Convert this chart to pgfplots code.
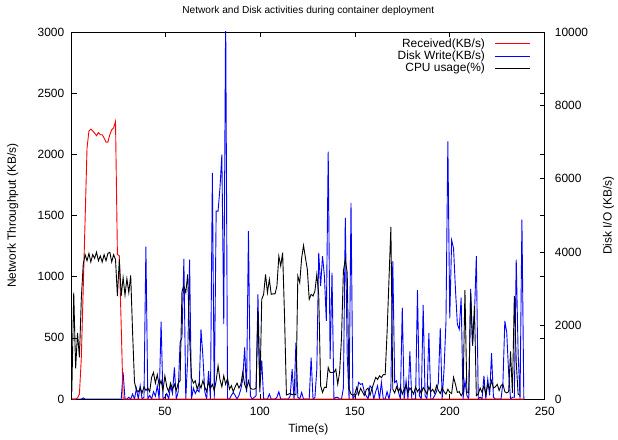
\documentclass[border=0pt]{standalone}
\usepackage{fontspec}
\setmainfont{Liberation Sans}
\usepackage{pgfplots}
\pgfplotsset{compat=1.18}
\begin{document}
\fontsize{12}{14}\selectfont
\begin{tikzpicture}
\pgfplotsset{
  common/.style={
    width=474bp, height=368bp, scale only axis,
    xmin=1, xmax=250,
    /pgf/number format/assume math mode=true,
    /pgf/number format/1000 sep={},
    scaled ticks=false,
    tick label style={font=\fontsize{12}{14}\selectfont},
    label style={font=\fontsize{12}{14}\selectfont},
    major tick length=5bp,
    tick align=inside,
    axis line style={line width=0.8bp},
    every tick/.style={black, line width=0.6bp},
  }
}
% right axis: Disk write
\begin{axis}[common, name=ax2,
  axis y line*=right, axis x line=none,
  ymin=0, ymax=10000, ytick={0,2000,...,10000},
  yticklabel style={xshift=6bp},
  ylabel={Disk I/O (KB/s)},
  ylabel style={at={(axis description cs:1,0.5)}, anchor=base, yshift=-67bp},
]
\addplot[blue, line width=0.9bp] coordinates {
(1,0)(2,0)(3,0)(4,0)(5,0)(6,0)(7,30)(8,0)(9,0)(10,0)(11,0)(12,0)(13,0)(14,0)(15,0)(16,0)(17,0)(18,0)(19,0)(20,0)
(21,0)(22,0)(23,0)(24,0)(25,0)(26,0)(27,0)(28,725)(29,0)(30,0)(31,50)(32,0)(33,136)(34,0)(35,290)(36,0)(37,362)(38,0)(39,50)(40,4150)
(41,0)(42,100)(43,0)(44,200)(45,80)(46,360)(47,0)(48,2110)(49,0)(50,50)(51,150)(52,0)(53,360)(54,150)(55,860)(56,0)(57,200)(58,1540)(59,1680)(60,3820)
(61,0)(62,1100)(63,3800)(64,0)(65,300)(66,150)(67,250)(68,200)(69,1900)(70,1180)(71,200)(72,0)(73,760)(74,0)(75,6160)(76,0)(77,5120)(78,5120)(79,5750)(80,6660)
(81,2040)(82,10500)(83,0)(84,0)(85,100)(86,180)(87,100)(88,0)(89,100)(90,270)(91,540)(92,1404)(93,180)(94,4574)(95,90)(96,0)(97,45)(98,90)(99,2853)(100,300)
(101,1050)(102,0)(103,0)(104,0)(105,136)(106,0)(107,0)(108,0)(109,50)(110,200)(111,0)(112,0)(113,0)(114,0)(115,0)(116,90)(117,815)(118,0)(119,1540)(120,50)
(121,0)(122,180)(123,0)(124,0)(125,0)(126,0)(127,1130)(128,0)(129,40)(130,815)(131,3985)(132,3080)(133,3894)(134,3350)(135,2128)(136,6738)(137,1087)(138,3442)(139,0)(140,45)
(141,45)(142,0)(143,0)(144,300)(145,4936)(146,1200)(147,0)(148,5344)(149,0)(150,90)(151,140)(152,453)(153,400)(154,420)(155,200)(156,90)(157,0)(158,360)(159,300)(160,0)
(161,200)(162,360)(163,0)(164,453)(165,0)(166,0)(167,200)(168,0)(169,300)(170,3758)(171,453)(172,500)(173,200)(174,0)(175,2491)(176,0)(177,500)(178,0)(179,1295)(180,0)
(181,0)(182,0)(183,2970)(184,90)(185,0)(186,2562)(187,90)(188,0)(189,1793)(190,0)(191,0)(192,90)(193,200)(194,453)(195,1929)(196,0)(197,815)(198,2100)(199,7018)(200,2201)
(201,4329)(202,4100)(203,2990)(204,2040)(205,1900)(206,2760)(207,0)(208,500)(209,100)(210,0)(211,3000)(212,1450)(213,2300)(214,3894)(215,0)(216,50)(217,0)(218,630)(219,0)(220,540)
(221,100)(222,1250)(223,50)(224,0)(225,0)(226,0)(227,0)(228,453)(229,2130)(230,1810)(231,720)(232,0)(233,50)(234,50)(235,3800)(236,1250)(237,0)(238,4890)(239,0)
};
\end{axis}
% left axis: Received and CPU
\begin{axis}[common, name=ax,
  ymin=0, ymax=3000, ytick={0,500,...,3000},
  xtick={50,100,...,250},
  xticklabel pos=left, yticklabel pos=left,
  xtick pos=both, ytick pos=both,
  xticklabel style={yshift=-4bp},
  yticklabel style={xshift=-3.5bp},
  title={Network and Disk activities during container deployment},
  title style={at={(axis description cs:0.5,1)}, anchor=base, yshift=12.5bp, font=\fontsize{10.2}{12}\selectfont},
  xlabel={Time(s)},
  xlabel style={at={(axis description cs:0.5,0)}, anchor=base, yshift=-34bp},
  ylabel={Network Throughput (KB/s)},
  ylabel style={at={(axis description cs:0,0.5)}, anchor=base, yshift=56bp},
  legend plot pos=right, legend cell align=right,
  legend image code/.code={\draw[#1] (0bp,0bp) -- (35bp,0bp);},
  legend style={draw=none, fill=none, at={(1,1)}, anchor=north east,
    xshift=-14bp, yshift=-4.5bp, inner sep=0pt, outer sep=0pt,
    column sep=8bp, row sep=-2bp,
    font=\fontsize{12}{14}\selectfont},
]
\addplot[red, line width=0.9bp] coordinates {
(1,0)(2,0)(3,0)(4,10)(5,40)(6,340)(7,900)(8,1470)(9,2050)(10,2190)(11,2206)(12,2190)(13,2174)(14,2152)(15,2179)(16,2160)(17,2160)(18,2133)(19,2100)(20,2100)
(21,2160)(22,2201)(23,2215)(24,2269)(25,1182)(26,1170)(27,600)(28,0)(29,0)(239,0)
};
\addlegendentry{Received(KB/s)}
\addlegendimage{blue, line width=0.9bp}
\addlegendentry{Disk Write(KB/s)}
\addplot[black, line width=0.9bp] coordinates {
(1,60)(2,870)(3,250)(4,540)(5,340)(6,820)(7,1100)(8,1180)(9,1130)(10,1190)(11,1120)(12,1180)(13,1150)(14,1200)(15,1130)(16,1170)(17,1120)(18,1180)(19,1130)(20,1190)
(21,1200)(22,1120)(23,1180)(24,1140)(25,842)(26,1141)(27,842)(28,992)(29,850)(30,984)(31,870)(32,1011)(33,543)(34,138)(35,73)(36,60)(37,90)(38,50)(39,100)(40,70)
(41,90)(42,60)(43,177)(44,217)(45,130)(46,200)(47,110)(48,150)(49,70)(50,190)(51,100)(52,60)(53,130)(54,80)(55,120)(56,70)(57,130)(58,150)(59,880)(60,924)
(61,870)(62,1019)(63,500)(64,176)(65,130)(66,150)(67,80)(68,130)(69,90)(70,150)(71,100)(72,60)(73,140)(74,90)(75,120)(76,70)(77,150)(78,272)(79,160)(80,100)
(81,190)(82,120)(83,170)(84,80)(85,110)(86,60)(87,100)(88,130)(89,90)(90,120)(91,218)(92,120)(93,80)(94,150)(95,90)(96,80)(97,80)(98,90)(99,720)(100,54)
(101,815)(102,856)(103,1019)(104,870)(105,978)(106,856)(107,860)(108,860)(109,924)(110,1168)(111,1087)(112,1196)(113,677)(114,33)(115,40)(116,45)(117,35)(118,40)(119,35)(120,1005)
(121,951)(122,1150)(123,1255)(124,1155)(125,1060)(126,815)(127,856)(128,842)(129,883)(130,1019)(131,856)(132,109)(133,54)(134,95)(135,95)(136,258)(137,217)(138,217)(139,217)(140,244)
(141,122)(142,217)(143,500)(144,1046)(145,1141)(146,1033)(147,81)(148,41)(149,30)(150,41)(151,95)(152,35)(153,88)(154,60)(155,30)(156,75)(157,90)(158,30)(159,85)(160,130)
(161,177)(162,160)(163,190)(164,175)(165,200)(166,200)(167,545)(168,976)(169,1407)(170,81)(171,50)(172,100)(173,60)(174,95)(175,40)(176,80)(177,110)(178,50)(179,90)(180,70)
(181,40)(182,100)(183,60)(184,85)(185,45)(186,95)(187,70)(188,40)(189,100)(190,60)(191,80)(192,50)(193,110)(194,70)(195,45)(196,90)(197,60)(198,40)(199,80)(200,55)
(201,45)(202,177)(203,122)(204,54)(205,60)(206,27)(207,54)(208,891)(209,60)(210,50)(211,870)(212,448)(213,761)(214,27)(215,40)(216,90)(217,54)(218,110)(219,40)(220,120)
(221,80)(222,150)(223,90)(224,100)(225,120)(226,70)(227,110)(228,122)(229,60)(230,50)(231,60)(232,389)(233,50)(234,842)(235,304)(236,40)(237,30)
};
\addlegendentry{CPU usage(\%)}
\end{axis}
\path ([xshift=-72bp,yshift=-37bp]ax.south west) rectangle ([xshift=72bp,yshift=32bp]ax.north east);
\end{tikzpicture}
\end{document}
